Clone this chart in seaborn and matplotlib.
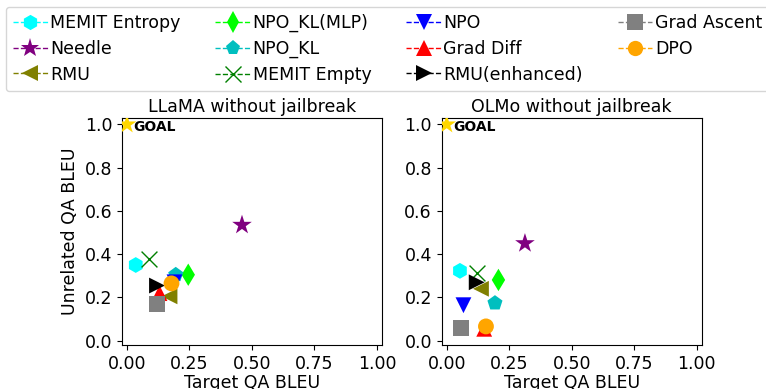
import matplotlib
matplotlib.use("Agg")
import matplotlib.pyplot as plt
from matplotlib.lines import Line2D
import seaborn as sns
import pandas as pd

methods = ["MEMIT Entropy", "Needle", "RMU", "NPO_KL(MLP)", "NPO_KL", "MEMIT Empty",
           "NPO", "Grad Diff", "RMU(enhanced)", "Grad Ascent", "DPO"]
markers = ["h", "*", "<", "d", "p", "x", "v", "^", ">", "s", "o"]
colors = ["cyan", "purple", "olive", "lime", "c", "green", "blue", "red", "black", "gray", "orange"]

llama_x = [0.035, 0.46, 0.17, 0.245, 0.195, 0.088, 0.19, 0.13, 0.12, 0.12, 0.178]
llama_y = [0.35, 0.535, 0.205, 0.305, 0.305, 0.38, 0.27, 0.22, 0.255, 0.17, 0.265]
olmo_x = [0.053, 0.313, 0.137, 0.207, 0.193, 0.123, 0.067, 0.15, 0.12, 0.057, 0.157]
olmo_y = [0.323, 0.45, 0.24, 0.281, 0.174, 0.315, 0.164, 0.055, 0.27, 0.057, 0.066]

goal_x = [0.0]
goal_y = [1.0]

titles = ["LLaMA without jailbreak", "OLMo without jailbreak"]
xticks = [0.0, 0.25, 0.5, 0.75, 1.0]
yticks = [0.0, 0.2, 0.4, 0.6, 0.8, 1.0]

plt.rcParams['font.family'] = ['DejaVu Sans']
fig = plt.figure(figsize=(7.66, 3.89), dpi=100)
ax1 = fig.add_axes([122/766, 44/389, 260/766, 227/389])
ax2 = fig.add_axes([441.7/766, 44/389, 260/766, 227/389])

S = 130
S_STAR = 220
for ax, xs, ys, title in [(ax1, llama_x, llama_y, titles[0]), (ax2, olmo_x, olmo_y, titles[1])]:
    for m, mk, c, x, y in zip(methods, markers, colors, xs, ys):
        df = pd.DataFrame({"x": [x], "y": [y]})
        if mk == "x":
            sns.scatterplot(data=df, x="x", y="y", marker=mk, color=c, s=S,
                            linewidth=1.0, ax=ax, legend=False, zorder=3)
        else:
            sns.scatterplot(data=df, x="x", y="y", marker=mk, color=c,
                            s=S_STAR if mk == "*" else S,
                            linewidth=0, edgecolor="none", ax=ax, legend=False, zorder=3)
    gdf = pd.DataFrame({"x": goal_x, "y": goal_y})
    sns.scatterplot(data=gdf, x="x", y="y", marker="*", color="gold", s=200,
                    linewidth=0, edgecolor="none", ax=ax, legend=False, zorder=4)
    ax.text(goal_x[0] + 0.027, goal_y[0] - 0.01, "GOAL", fontsize=10, fontweight="bold",
            va="center", ha="left", zorder=5)
    ax.set_xlim(-0.02, 1.02)
    ax.set_ylim(-0.02, 1.03)
    ax.set_xticks(xticks)
    ax.set_yticks(yticks)
    ax.tick_params(labelsize=12.5)
    ax.set_title(title, fontsize=12.5, pad=4)
    ax.set_xlabel("Target QA BLEU", fontsize=12.5, labelpad=1)
    ax.set_ylabel("")

ax1.set_ylabel("Unrelated QA BLEU", fontsize=12.5)

handles = []
for m, mk, c in zip(methods, markers, colors):
    ms = 14 if mk == "*" else 11
    if mk == "x":
        h = Line2D([], [], linestyle="--", linewidth=1, color=c, marker=mk,
                   markersize=ms, markeredgewidth=1.0)
    else:
        h = Line2D([], [], linestyle="--", linewidth=1, color=c, marker=mk,
                   markersize=ms, markeredgewidth=0)
    handles.append(h)

fig.legend(handles, methods, loc="upper left", bbox_to_anchor=(6/766, 1 - 7/389),
           ncol=4, fontsize=12.5, handlelength=2.0, handletextpad=0.15,
           columnspacing=2.0, labelspacing=0.45, borderaxespad=0, frameon=True)

fig.savefig("out.png", dpi=100)
